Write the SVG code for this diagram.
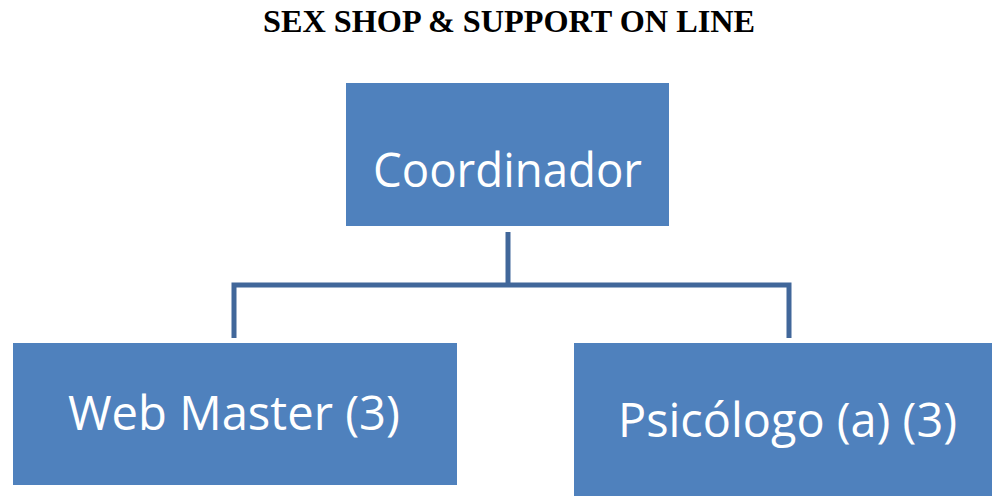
<svg xmlns="http://www.w3.org/2000/svg" width="992" height="496" viewBox="0 0 992 496">
<style>
.box{fill:#4F81BD;}
.lbl{font-family:"Open Sans","Noto Sans",sans-serif;fill:#ffffff;text-anchor:middle;font-size:47px;}
.title{font-family:"Liberation Serif","Times New Roman",serif;font-weight:bold;font-size:31px;fill:#000;text-anchor:middle;}
.conn{stroke:#41679A;stroke-width:5;fill:none;stroke-linejoin:miter;}
</style>
<rect width="992" height="496" fill="#ffffff"/>
<text class="title" x="509" y="32" textLength="492" lengthAdjust="spacingAndGlyphs">SEX SHOP &amp; SUPPORT ON LINE</text>
<g id="connectors">
<path class="conn" d="M508 232 V285"/>
<path class="conn" d="M234 338 V285 H789 V338"/>
</g>
<g id="coordinador">
<rect class="box" x="346" y="83" width="323" height="143"/>
<text class="lbl" x="507.5" y="187" textLength="269" lengthAdjust="spacingAndGlyphs">Coordinador</text>
</g>
<g id="webmaster">
<rect class="box" x="13" y="343" width="444" height="142"/>
<text class="lbl" x="234" y="430" textLength="332" lengthAdjust="spacingAndGlyphs">Web Master (3)</text>
</g>
<g id="psicologo">
<rect class="box" x="574" y="343" width="418" height="153"/>
<text class="lbl" x="787.5" y="437" textLength="339" lengthAdjust="spacingAndGlyphs">Psicólogo (a) (3)</text>
</g>
</svg>
